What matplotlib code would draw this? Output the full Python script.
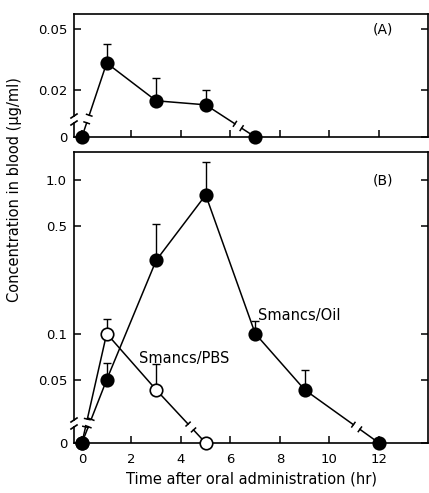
import numpy as np
import matplotlib
matplotlib.use("Agg")
from matplotlib import pyplot as plt

# panel A : Smancs/Oil, low range
timeA = [0, 1, 3, 5, 7]
concA = [0, 0.030, 0.017, 0.016, 0]
errA = [0, 0.040, 0.024, 0.020, 0]

# panel B
timeOil = [0, 1, 3, 5, 7, 9, 12]
concOil = [0, 0.050, 0.30, 0.80, 0.10, 0.043, 0]
errOil = [0, 0.064, 0.52, 1.31, 0.121, 0.058, 0]

timePBS = [0, 1, 3, 5]
concPBS = [0, 0.10, 0.043, 0]
errPBS = [0, 0.125, 0.063, 0]

ticksA = [0, 0.02, 0.05]
ticklabA = ["0", "0.02", "0.05"]
ticksB = [0, 0.05, 0.1, 0.5, 1.0]
ticklabB = ["0", "0.05", "0.1", "0.5", "1.0"]
xticks = [0, 2, 4, 6, 8, 10, 12]

W, H = 429, 493
fig = plt.figure(figsize=(W / 100, H / 100), dpi=100)


def make_scale(z0, b):
    # log scale above b, linear squeeze from 0 to b (broken axis)
    lb = np.log10(b)

    def fwd(y):
        y = np.asarray(y, dtype=float)
        return np.where(y >= b, np.log10(np.maximum(y, b)), z0 + (lb - z0) * y / b)

    def inv(v):
        v = np.asarray(v, dtype=float)
        return np.where(v >= lb, 10.0 ** np.minimum(v, 30), (v - z0) / (lb - z0) * b)
    return fwd, inv


def broken_seg(ax, p, q, h, gap=4.0, cap=2.8):
    to_disp = ax.transData.transform
    to_data = ax.transData.inverted().transform
    P, Q = to_disp(np.array([p, q], dtype=float))
    yb = to_disp(np.array([[0, 0]]))[0][1] + h
    d = Q - P
    t = (yb - P[1]) / d[1]
    L = np.hypot(*d)
    u = d / L
    n = np.array([-u[1], u[0]])
    C = P + t * d
    A = C - u * gap
    B = C + u * gap
    for seg in ([P, A], [B, Q], [A - n * cap, A + n * cap], [B - n * cap, B + n * cap]):
        xy = to_data(np.array(seg))
        ax.plot(xy[:, 0], xy[:, 1], color="k", lw=1.1, clip_on=False, zorder=2)


def draw_series(ax, x, y, err, face, h_up, h_down):
    for i in range(len(x) - 1):
        p, q = (x[i], y[i]), (x[i + 1], y[i + 1])
        if y[i] == 0:
            broken_seg(ax, p, q, h_up)
        elif y[i + 1] == 0:
            broken_seg(ax, p, q, h_down)
        else:
            ax.plot([x[i], x[i + 1]], [y[i], y[i + 1]], color="k", lw=1.1, zorder=2)
    xe = [a for a, b in zip(x, y) if b > 0]
    ye = [b for b in y if b > 0]
    up = [e - b for e, b in zip(err, y) if b > 0]
    ax.errorbar(xe, ye, yerr=[np.zeros(len(ye)), up], fmt="none", ecolor="k",
                elinewidth=1.0, capsize=3, capthick=1.0, zorder=1)
    ax.plot(x, y, "o", ms=9, mfc=face, mec="k", mew=1.2, clip_on=False, zorder=3)


def left_spine(ax, hpx, lo, hi):
    ax.spines["left"].set_visible(False)
    f_lo, f_hi = lo / hpx, hi / hpx
    kw = dict(transform=ax.transAxes, color="k", lw=1.2, clip_on=False)
    ax.plot([0, 0], [0, f_lo], **kw)
    ax.plot([0, 0], [f_hi, 1], **kw)
    wpx = 354.0
    for f in (f_lo, f_hi):
        ax.plot([-3 / wpx, 3 / wpx], [f - 2 / hpx, f + 2 / hpx], **kw)


def style(ax, ticks, labels, labelx):
    ax.set_xlim(-0.32, 13.98)
    ax.set_yticks(ticks)
    ax.set_yticklabels(labels)
    ax.yaxis.set_minor_locator(matplotlib.ticker.NullLocator())
    ax.set_xticks(xticks)
    ax.tick_params(direction="in", length=5, width=1.1, right=True, top=False,
                   labelsize=9.5, pad=5)
    ax.tick_params(axis="x", labelbottom=labelx, pad=7)
    for s in ax.spines.values():
        s.set_linewidth(1.2)


# panel A
axA = fig.add_axes([74 / W, (H - 137) / H, 354 / W, 123 / H])
axA.set_yscale("function", functions=make_scale(-2.006, 0.012))
axA.set_ylim(0, 0.0627)
style(axA, ticksA, ticklabA, False)
left_spine(axA, 123, 14, 21)
draw_series(axA, timeA, concA, errA, "k", 18, 11)
axA.text(12.16, 0.05, "(A)", ha="center", va="center", fontsize=10)

# panel B
axB = fig.add_axes([74 / W, (H - 443) / H, 354 / W, 291 / H])
axB.set_yscale("function", functions=make_scale(-1.713, 0.022))
axB.set_ylim(0, 1.524)
style(axB, ticksB, ticklabB, True)
left_spine(axB, 291, 16, 23)
draw_series(axB, timePBS, concPBS, errPBS, "white", 20, 16)
draw_series(axB, timeOil, concOil, errOil, "k", 20, 16)
axB.text(12.16, 1.0, "(B)", ha="center", va="center", fontsize=10)
axB.text(7.1, 0.131, "Smancs/Oil", ha="left", va="center", fontsize=10.5)
axB.text(2.3, 0.0687, "Smancs/PBS", ha="left", va="center", fontsize=10.5)
axB.set_xlabel("Time after oral administration (hr)", fontsize=10.5, labelpad=4)

fig.text(15 / W, (H - 190) / H, "Concentration in blood (\u00b5g/ml)", rotation=90,
         ha="center", va="center", fontsize=10.5)

fig.savefig("out.png", dpi=100)
